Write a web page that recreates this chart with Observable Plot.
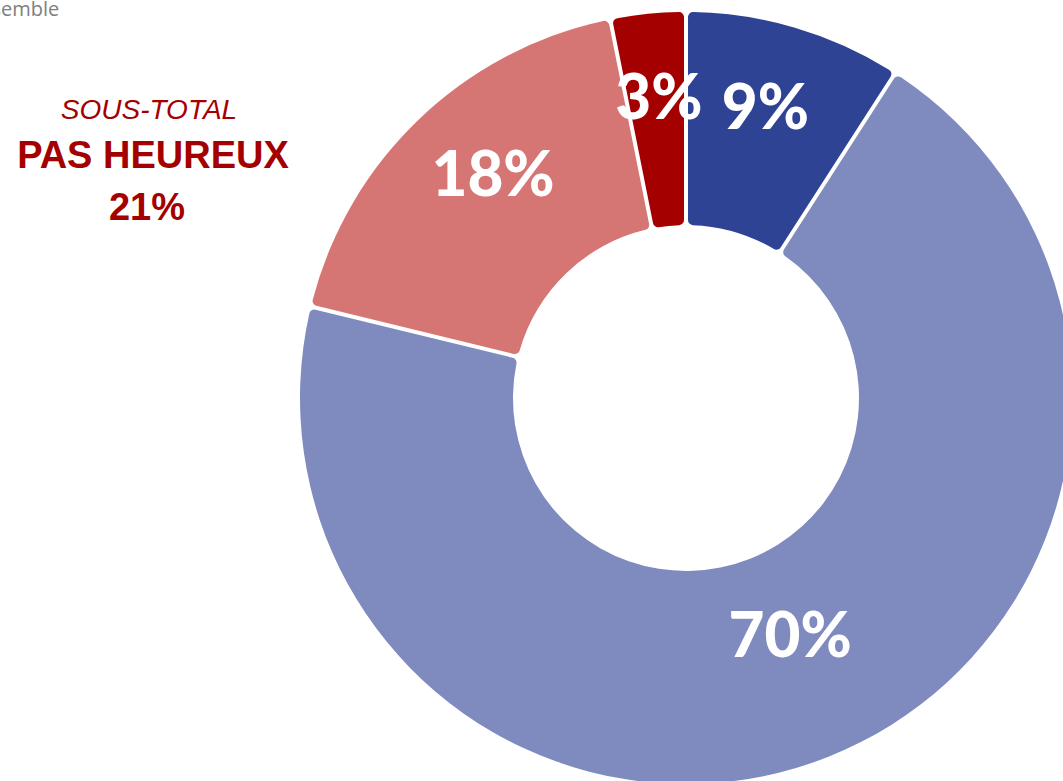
<!DOCTYPE html>
<html>
<head>
<meta charset="utf-8">
<script src="https://cdn.jsdelivr.net/npm/d3@7"></script>
<script src="https://cdn.jsdelivr.net/npm/@observablehq/plot@0.6"></script>
<style>
  html, body { margin: 0; padding: 0; background: #fff; overflow: hidden; }
  #wrap { position: relative; width: 1063px; height: 781px; overflow: hidden; }
  #title { position: absolute; left: -32px; top: -4px; font-family: "Open Sans", sans-serif; font-size: 20px; line-height: 26px; color: #808080; white-space: nowrap; }
  .note { position: absolute; width: 300px; left: 0; text-align: center; color: #a50000; font-family: "Liberation Sans", Arial, sans-serif; white-space: nowrap; }
  #n1 { top: 94px; font-size: 28px; font-style: italic; left: -1px; }
  #n2 { top: 134px; font-size: 38px; font-weight: bold; left: 3px; }
  #n3 { top: 186px; font-size: 38px; font-weight: bold; left: -3px; }
  #chart { position: absolute; left: 0; top: 0; }
</style>
</head>
<body>
<div id="wrap">
  <div id="chart"></div>
  <div id="title">Ensemble</div>
  <div class="note" id="n1">SOUS-TOTAL</div>
  <div class="note" id="n2">PAS HEUREUX</div>
  <div class="note" id="n3">21%</div>
</div>
<script>
const categories = ["Très heureux", "Plutôt heureux", "Plutôt pas heureux", "Pas du tout heureux"];
const values = [9, 70, 18, 3];
const labels = ["9%", "70%", "18%", "3%"];
const colors = ["#2f4395", "#7f8bbe", "#d67674", "#a50000"];

const data = categories.map((c, i) => ({category: c, value: values[i], label: labels[i]}));

const W = 1063, H = 781;
const cx = 686, cy = 398;
const rOuter = 386, rInner = 173;

const pie = d3.pie().sort(null).value(d => d.value).padAngle(4 / rOuter)(data);
const arcGen = d3.arc().innerRadius(rInner).outerRadius(rOuter).cornerRadius(5).padRadius(rOuter);
const centroids = pie.map(p => {
  const [x, y] = arcGen.centroid(p);
  return {x, y, label: p.data.label};
});

const color = d3.scaleOrdinal(categories, colors);

const donutMark = (index, scales, values, dimensions, context) => {
  const ox = scales.x(0), oy = scales.y(0);
  const g = d3.create("svg:g").attr("transform", `translate(${ox},${oy})`);
  g.selectAll("path")
    .data(pie)
    .join("path")
    .attr("d", arcGen)
    .attr("fill", d => color(d.data.category));
  return g.node();
};

const chart = Plot.plot({
  width: W,
  height: H,
  margin: 0,
  x: {domain: [-cx, W - cx], range: [0, W], axis: null},
  y: {domain: [-cy, H - cy], range: [0, H], axis: null},
  marks: [
    donutMark,
    Plot.text(centroids, {
      x: "x",
      y: "y",
      text: "label",
      dy: -21,
      fill: "white",
      fontSize: 62,
      fontWeight: 900,
      fontFamily: "Lato, sans-serif",
      lineAnchor: "middle"
    })
  ]
});

document.getElementById("chart").appendChild(chart);
</script>
</body>
</html>
